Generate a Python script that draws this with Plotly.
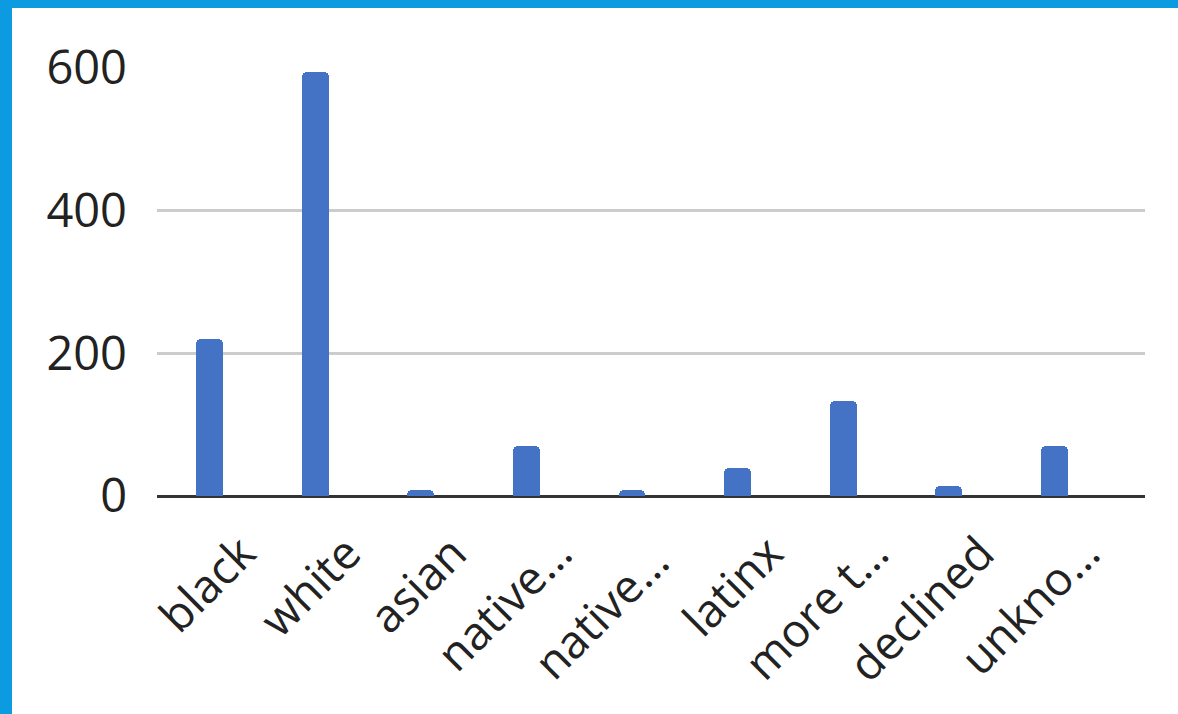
import plotly.graph_objects as go

categories = ["black", "white", "asian", "native…", "native… ", "latinx", "more t…", "declined", "unkno…"]
values = [220, 595, 8, 70, 8, 39, 133, 14, 70]
y_ticks = [0, 200, 400, 600]

W, H = 1178, 714
L, R, T, B = 157, 33, 68, 218
pw = W - L - R
ph = H - T - B

fig = go.Figure(go.Bar(
    x=list(range(len(categories))), y=values,
    width=0.255,
    marker=dict(color="#4472C4", line=dict(width=0), cornerradius=5),
))

def px2x(p):
    return (p - L) / pw

def py2y(p):
    return (H - B - p) / ph

border = "#0c9be0"
fig.update_layout(
    width=W, height=H,
    margin=dict(l=L, r=R, t=T, b=B, pad=0),
    paper_bgcolor="white", plot_bgcolor="white",
    font=dict(family="Open Sans", color="#222222"),
    showlegend=False,
    bargap=0,
    shapes=[
        dict(type="rect", xref="paper", yref="paper", x0=px2x(0), x1=px2x(12), y0=py2y(H), y1=py2y(0),
             fillcolor=border, line=dict(width=0), layer="above"),
        dict(type="rect", xref="paper", yref="paper", x0=px2x(0), x1=px2x(W), y0=py2y(8), y1=py2y(0),
             fillcolor=border, line=dict(width=0), layer="above"),
    ],
)
fig.update_xaxes(
    range=[-0.5, 8.86],
    tickmode="array", tickvals=list(range(len(categories))), ticktext=categories,
    tickangle=-45, tickfont=dict(size=46),
    showgrid=False, showline=False, ticks="",
    ticklabelshift=32, ticklabelstandoff=20,
)
fig.update_yaxes(
    range=[0, 600],
    tickmode="array", tickvals=y_ticks,
    tickfont=dict(size=47),
    showgrid=True, gridcolor="#cccccc", gridwidth=2.5,
    zeroline=True, zerolinecolor="#333333", zerolinewidth=3,
    showline=False, ticks="", ticklabelstandoff=29,
)
fig.write_html("out.html", config={"displayModeBar": False},
               post_script="document.body.style.margin='0';document.body.style.padding='0';")
